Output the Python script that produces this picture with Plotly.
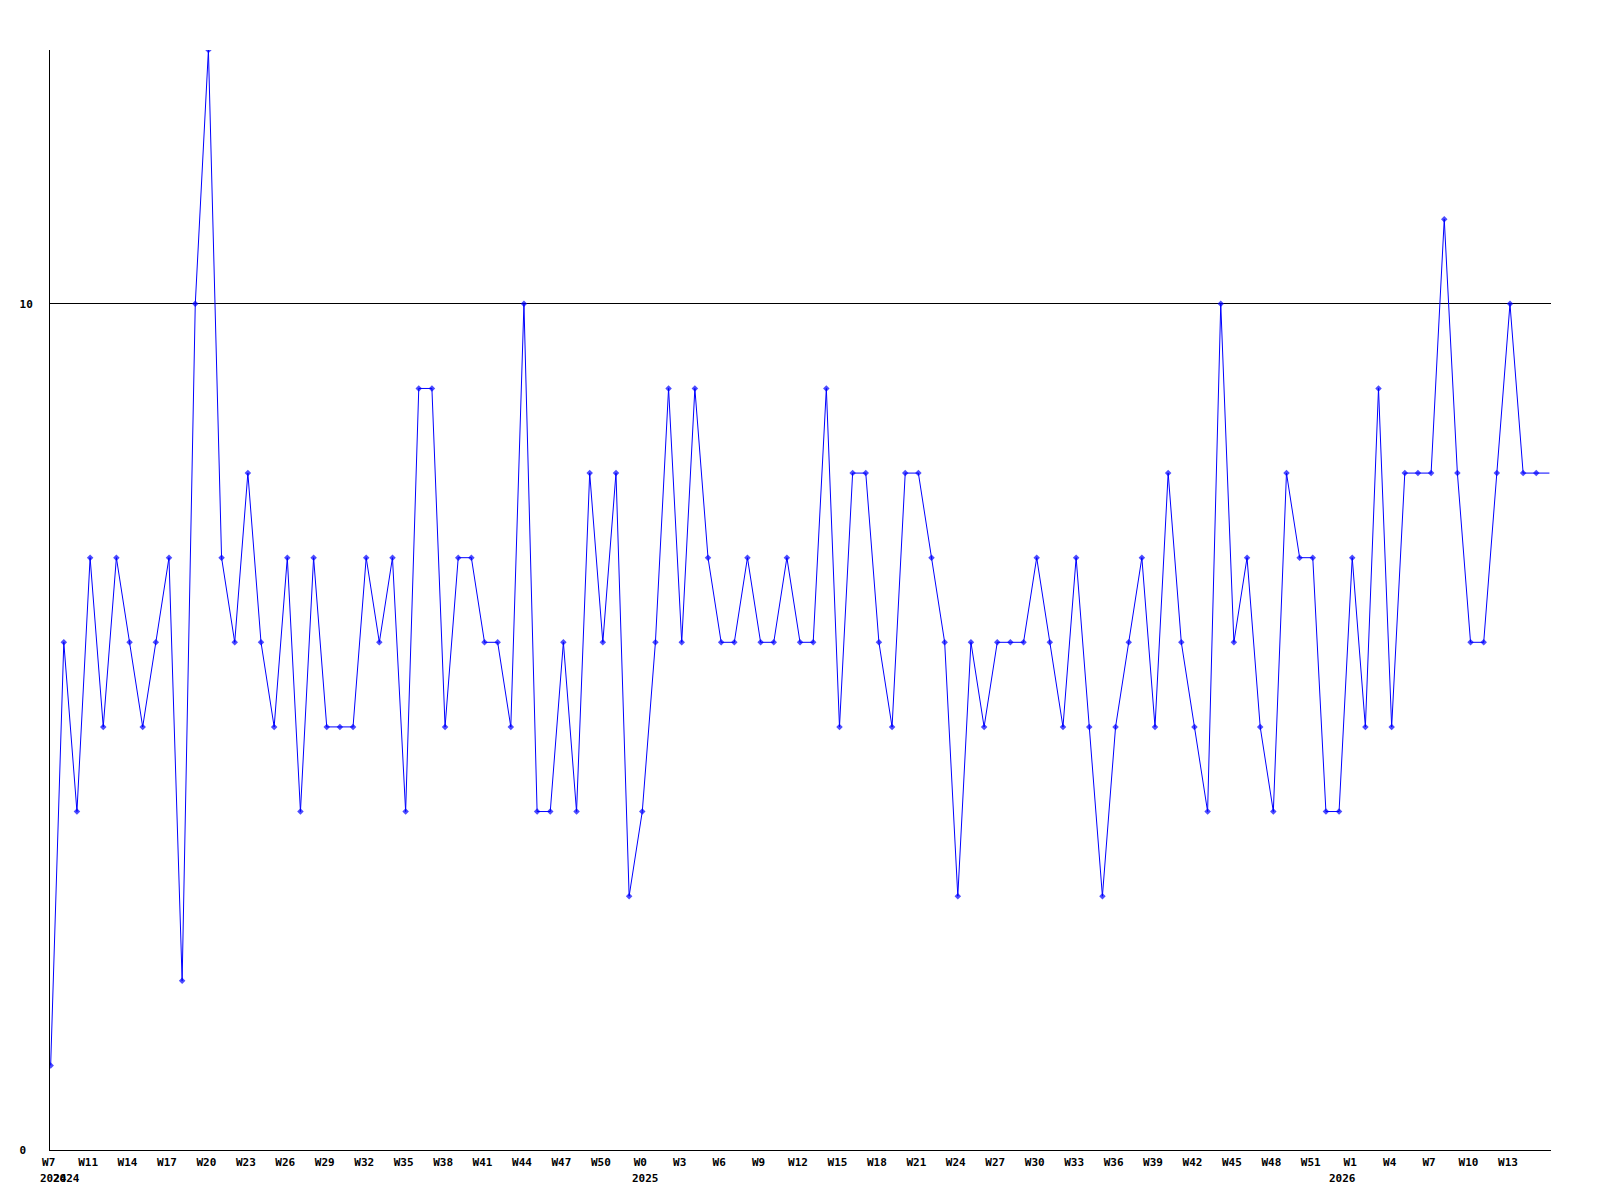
import plotly.graph_objects as go

# weekly values, W7 2024 .. W13 2026 (last value continues to the right edge)
values = [1, 6, 4, 7, 5, 7, 6, 5, 6, 7, 2, 10, 13, 7, 6, 8, 6, 5, 7, 4,
          7, 5, 5, 5, 7, 6, 7, 4, 9, 9, 5, 7, 7, 6, 6, 5, 10, 4, 4, 6,
          4, 8, 6, 8, 3, 4, 6, 9, 6, 9, 7, 6, 6, 7, 6, 6, 7, 6, 6, 9,
          5, 8, 8, 6, 5, 8, 8, 7, 6, 3, 6, 5, 6, 6, 6, 7, 6, 5, 7, 5,
          3, 5, 6, 7, 5, 8, 6, 5, 4, 10, 6, 7, 5, 4, 8, 7, 7, 4, 4,
          7, 5, 9, 5, 8, 8, 8, 11, 8, 6, 6, 8, 10, 8, 8]
trailing_value = 8  # current (open) week, drawn as line only

week_labels = ["W7", "W11", "W14", "W17", "W20", "W23", "W26", "W29", "W32", "W35",
               "W38", "W41", "W44", "W47", "W50", "W0", "W3", "W6", "W9", "W12",
               "W15", "W18", "W21", "W24", "W27", "W30", "W33", "W36", "W39", "W42",
               "W45", "W48", "W51", "W1", "W4", "W7", "W10", "W13"]
week_label_step = 3

year_labels = ["2024", "2024", "2025", "2026"]
year_label_index = [0, 0, 45, 98]
year_label_shift = [3, 16, 3, 3]

y_tick_vals = [0, 10]
y_tick_text = ["0\u00a0", "10"]

xs = list(range(len(values) + 1))
ys = values + [trailing_value]
sizes = [5] * len(values) + [0]

font_family = "DejaVu Sans Mono"

fig = go.Figure()
fig.add_trace(go.Scatter(
    x=xs, y=ys, mode="lines+markers",
    line=dict(color="#0000ff", width=1),
    marker=dict(symbol="diamond", size=sizes, color="#0000ff", line=dict(width=0)),
    hoverinfo="skip",
    showlegend=False,
))

tick_vals = [i * week_label_step for i in range(len(week_labels))]

annotations = []
for txt, idx, sh in zip(year_labels, year_label_index, year_label_shift):
    annotations.append(dict(
        text=txt, x=idx, xref="x", y=0, yref="paper",
        xanchor="center", yanchor="top", xshift=sh, yshift=-20,
        showarrow=False,
        font=dict(family=font_family, size=11, color="black", weight="bold"),
    ))

# page body has an 8px margin; figure is sized so the plot area lands at
# x 50..1551, y 50..1150 of the window
fig.update_layout(
    width=1584, height=1184, autosize=False,
    margin=dict(l=42, r=41, t=42, b=42, pad=0),
    paper_bgcolor="white", plot_bgcolor="white",
    annotations=annotations,
    xaxis=dict(
        range=[-0.05, 114.12],
        showline=True, linecolor="black", linewidth=1,
        showgrid=False, zeroline=False,
        tickmode="array", tickvals=tick_vals, ticktext=week_labels,
        ticks="", ticklabelshift=-2, ticklabelstandoff=2,
        tickfont=dict(family=font_family, size=11, color="black", weight="bold"),
    ),
    yaxis=dict(
        range=[0, 13],
        showline=True, linecolor="black", linewidth=1,
        showgrid=True, gridcolor="black", gridwidth=1, zeroline=False,
        tickmode="array", tickvals=y_tick_vals, ticktext=y_tick_text,
        ticks="", ticklabelstandoff=14,
        tickfont=dict(family=font_family, size=11, color="black", weight="bold"),
    ),
)

fig.write_html("out.html")
